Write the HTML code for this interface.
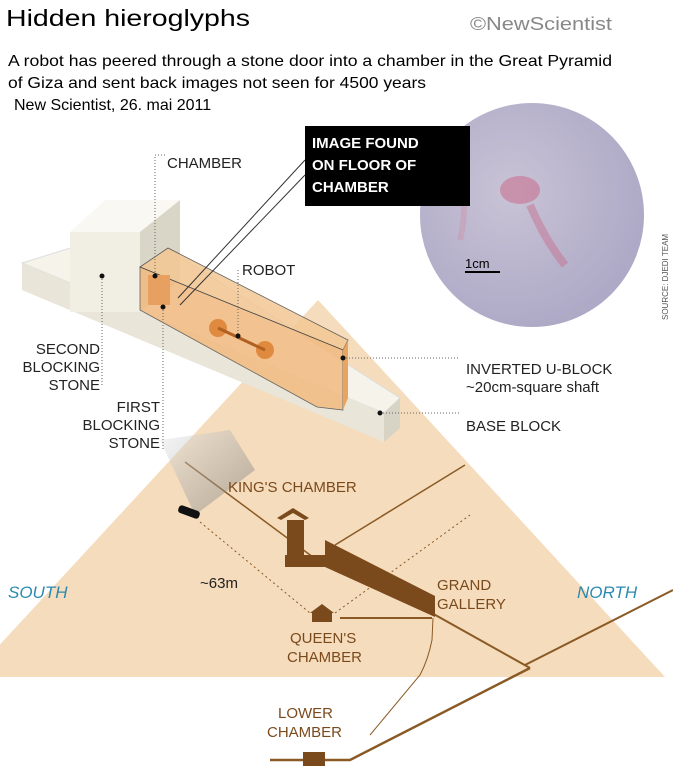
<!DOCTYPE html>
<html><head><meta charset="utf-8"><style>
body{margin:0;background:#fff;}
svg{display:block}
text{font-family:"Liberation Sans",sans-serif}
</style></head><body>
<svg width="673" height="768" viewBox="0 0 673 768" xmlns="http://www.w3.org/2000/svg">
<defs>
<radialGradient id="cg" cx="0.4" cy="0.4" r="0.7"><stop offset="0" stop-color="#c9c3d6"/><stop offset="1" stop-color="#aaa6c4"/></radialGradient>
<linearGradient id="sh" x1="0" y1="0" x2="1" y2="1"><stop offset="0" stop-color="#eee"/><stop offset="1" stop-color="#666"/></linearGradient>
</defs>
<rect width="673" height="768" fill="#fff"/>
<!-- pyramid -->
<polygon points="318,300 665,677 -30,677" fill="#f5dcbc"/>
<g stroke="#8a5a25" fill="none">
<line x1="185" y1="462" x2="325" y2="566" stroke-width="1.5"/>
<line x1="335" y1="545" x2="465" y2="465" stroke-width="1.5"/>
<line x1="430" y1="612" x2="530" y2="668" stroke-width="2"/>
<line x1="525" y1="665" x2="673" y2="590" stroke-width="2"/>
<polyline points="530,668 350,760 270,760" stroke-width="2.5"/>
<path d="M433,618 L432,640 Q428,660 420,675 L370,735" stroke-width="1"/>
<line x1="200" y1="522" x2="310" y2="613" stroke-dasharray="2,3"/>
<line x1="335" y1="613" x2="470" y2="515" stroke-dasharray="2,3"/>
<line x1="340" y1="618" x2="432" y2="618" stroke-width="2"/>
</g>
<g fill="#7b4a1c">
<polygon points="277,518 293,508 309,518 305,520 293,513 281,520"/>
<rect x="287" y="520" width="17" height="45"/>
<rect x="285" y="555" width="40" height="12"/>
<polygon points="325,540 435,596 435,617 325,567"/>
<polygon points="310,613 322,604 334,613"/>
<rect x="312" y="612" width="20" height="10"/>
<rect x="303" y="752" width="22" height="14"/>
</g>
<polygon points="160,440 195,515 255,470 230,430" fill="url(#sh)" opacity="0.45"/>
<rect x="178" y="508" width="22" height="8" rx="3" fill="#111" transform="rotate(20 189 512)"/>
<!-- base slab -->
<polygon points="22,263 135,228 400,398 384,413" fill="#f6f3ea" stroke="#ddd"/>
<polygon points="22,263 384,413 384,442 22,290" fill="#e9e5d8"/>
<polygon points="384,413 400,398 400,428 384,442" fill="#d7d3c5"/>
<polygon points="70,232 105,200 180,200 140,232" fill="#faf8f2"/>
<rect x="70" y="232" width="70" height="80" fill="#f1eee4"/>
<polygon points="140,232 180,200 180,280 140,312" fill="#d9d6c8"/>
<polygon points="140,267 168,248 348,340 343,350" fill="#f3c793" opacity="0.85" stroke="#444" stroke-width="0.8"/>
<polygon points="140,267 343,350 343,410 317,407 140,310" fill="#f2b77b" opacity="0.8" stroke="#444" stroke-width="0.8"/>
<polygon points="343,350 348,340 348,398 343,410" fill="#e9a460"/>
<rect x="148" y="275" width="22" height="30" fill="#e8a060"/>
<circle cx="218" cy="328" r="9" fill="#e08a40"/>
<circle cx="265" cy="350" r="9" fill="#e08a40"/>
<line x1="218" y1="328" x2="265" y2="350" stroke="#b06020" stroke-width="3"/>
<g stroke="#666" stroke-dasharray="1,2" fill="none">
<polyline points="155,275 155,155 165,155"/>
<line x1="102" y1="276" x2="102" y2="385"/>
<line x1="163" y1="310" x2="163" y2="450"/>
<line x1="238" y1="270" x2="238" y2="336"/>
<line x1="343" y1="358" x2="460" y2="358"/>
<line x1="380" y1="413" x2="460" y2="413"/>
</g>
<g fill="#111"><circle cx="155" cy="276" r="2.5"/><circle cx="163" cy="307" r="2.5"/><circle cx="102" cy="276" r="2.5"/><circle cx="238" cy="336" r="2.5"/><circle cx="343" cy="358" r="2.5"/><circle cx="380" cy="413" r="2.5"/></g>
<line x1="178" y1="298" x2="305" y2="160" stroke="#333" stroke-width="1"/>
<line x1="180" y1="305" x2="305" y2="175" stroke="#333" stroke-width="1"/>
<!-- circle image -->
<circle cx="532" cy="215" r="112" fill="url(#cg)"/>
<ellipse cx="520" cy="190" rx="20" ry="14" fill="#c86a8a" opacity="0.55"/>
<path d="M530,205 Q545,240 565,265" stroke="#c86a8a" stroke-width="8" opacity="0.45" fill="none"/>
<path d="M455,150 Q470,200 460,240" stroke="#d08aa0" stroke-width="6" opacity="0.35" fill="none"/>
<line x1="465" y1="272" x2="500" y2="272" stroke="#000" stroke-width="2"/>
<text x="465" y="268" font-size="13">1cm</text>
<rect x="305" y="126" width="165" height="80" fill="#000"/>
<text fill="#fff" font-size="15" font-weight="bold"><tspan x="312" y="148">IMAGE FOUND</tspan><tspan x="312" y="170">ON FLOOR OF</tspan><tspan x="312" y="192">CHAMBER</tspan></text>
<text x="668" y="320" font-size="8" fill="#555" transform="rotate(-90 668 320)">SOURCE: DJEDI TEAM</text>
<!-- header -->
<text x="6" y="26" font-size="23" textLength="244" lengthAdjust="spacingAndGlyphs">Hidden hieroglyphs</text>
<text x="470" y="30" font-size="18" fill="#888" textLength="142" lengthAdjust="spacingAndGlyphs">©NewScientist</text>
<text x="8" y="66" font-size="16" textLength="604" lengthAdjust="spacingAndGlyphs">A robot has peered through a stone door into a chamber in the Great Pyramid</text>
<text x="8" y="88" font-size="16" textLength="418" lengthAdjust="spacingAndGlyphs">of Giza and sent back images not seen for 4500 years</text>
<text x="14" y="110" font-size="16">New Scientist, 26. mai 2011</text>
<g font-size="15" fill="#222">
<text x="167" y="168">CHAMBER</text>
<text x="242" y="275">ROBOT</text>
<text x="100" y="354" text-anchor="end">SECOND</text>
<text x="100" y="372" text-anchor="end">BLOCKING</text>
<text x="100" y="390" text-anchor="end">STONE</text>
<text x="160" y="412" text-anchor="end">FIRST</text>
<text x="160" y="430" text-anchor="end">BLOCKING</text>
<text x="160" y="448" text-anchor="end">STONE</text>
<text x="466" y="374">INVERTED U-BLOCK</text>
<text x="466" y="392">~20cm-square shaft</text>
<text x="466" y="431">BASE BLOCK</text>
</g>
<g font-size="15" fill="#7b4a1c">
<text x="228" y="492">KING'S CHAMBER</text>
<text x="437" y="590">GRAND</text>
<text x="437" y="609">GALLERY</text>
<text x="290" y="643">QUEEN'S</text>
<text x="287" y="662">CHAMBER</text>
<text x="278" y="718">LOWER</text>
<text x="267" y="737">CHAMBER</text>
</g>
<text x="200" y="588" font-size="15" fill="#222">~63m</text>
<text x="8" y="598" font-size="17" font-style="italic" fill="#2a8ab0">SOUTH</text>
<text x="577" y="598" font-size="17" font-style="italic" fill="#2a8ab0">NORTH</text>
</svg>
</body></html>
